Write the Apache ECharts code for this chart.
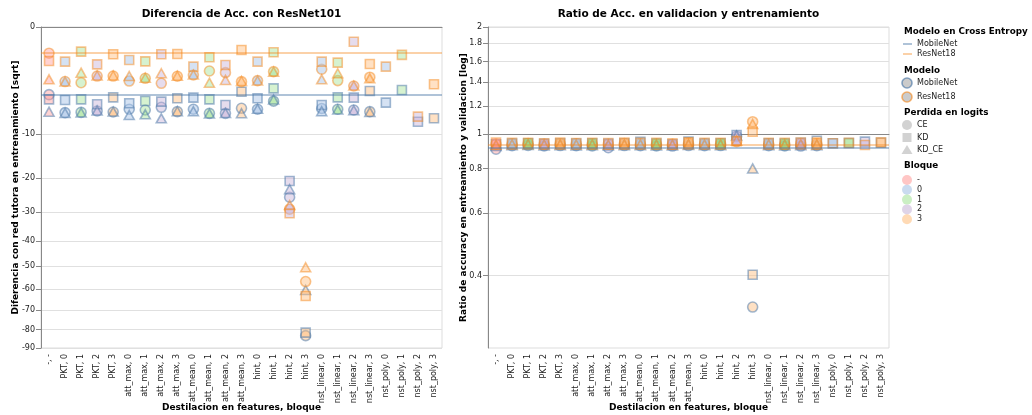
<!DOCTYPE html>
<html><head><meta charset="utf-8">
<script src="https://cdn.jsdelivr.net/npm/echarts@6/dist/echarts.min.js"></script>
<style>html,body{margin:0;padding:0;background:#fff}#c{width:1032px;height:415px}</style>
</head><body><div id="c"></div>
<script>
// ---------- DATA ----------
const categories = ['-, -','PKT, 0','PKT, 1','PKT, 2','PKT, 3','att_max, 0','att_max, 1','att_max, 2','att_max, 3',
  'att_mean, 0','att_mean, 1','att_mean, 2','att_mean, 3','hint, 0','hint, 1','hint, 2','hint, 3',
  'nst_linear, 0','nst_linear, 1','nst_linear, 2','nst_linear, 3','nst_poly, 0','nst_poly, 1','nst_poly, 2','nst_poly, 3'];
const categoryBlock = ['-','0','1','2','3','0','1','2','3','0','1','2','3','0','1','2','3','0','1','2','3','0','1','2','3'];
const models = ['MobileNet','ResNet18'];
const losses = ['CE','KD','KD_CE'];
const blockNames = ['-','0','1','2','3'];

// Left panel: difference with ResNet101 (train acc)
const diffResNet18CE   = [-0.60,-2.60,-2.71,-2.10,-2.10,-2.55,-2.30,-2.77,-2.12,-2.01,-1.69,-1.82,-2.61,-2.51,-1.74,-29.0,-56.6,-1.56,-2.51,-3.04,-2.20,null,null,null,null];
const diffResNet18KD   = [-1.01,-1.05,-0.53,-1.22,-0.65,-0.95,-1.03,-0.65,-0.64,-1.37,-0.80,-1.26,-0.46,-1.05,-0.56,-30.3,-63.2,-1.05,-1.11,-0.19,-1.20,-1.37,-0.68,-7.02,-2.87];
const diffResNet18KDCE = [-2.39,-2.60,-1.82,-2.05,-2.05,-2.10,-2.25,-1.87,-2.08,-1.98,-2.71,-2.45,-2.55,-2.51,-1.74,-27.7,-50.4,-2.39,-1.87,-3.00,-2.30,null,null,null,null];
const diffMobileNetCE   = [-4.00,-6.40,-6.36,-6.16,-6.31,-5.91,-6.02,-5.63,-6.26,-5.91,-6.51,-6.51,-5.77,-5.91,-4.80,-25.3,-83.2,-5.80,-5.91,-6.02,-6.26,null,null,null,null];
const diffMobileNetKD   = [-4.57,-4.65,-4.57,-5.22,-4.32,-5.08,-4.78,-4.87,-4.44,-4.36,-4.57,-5.31,-3.66,-4.44,-3.29,-20.7,-81.6,-5.31,-4.32,-4.36,-3.58,-5.00,-3.47,-7.83,-7.28];
const diffMobileNetKDCE = [-6.26,-6.45,-6.40,-6.10,-6.25,-6.76,-6.66,-7.28,-6.20,-6.20,-6.55,-6.45,-6.50,-5.85,-4.60,-23.0,-60.4,-6.20,-5.95,-6.05,-6.30,null,null,null,null];

// Right panel: ratio validation / train accuracy
const ratioResNet18CE   = [0.937,0.938,0.940,0.936,0.939,0.938,0.937,0.936,0.940,0.938,0.937,0.936,0.941,0.938,0.939,0.952,1.083,0.938,0.937,0.940,0.938,null,null,null,null];
const ratioResNet18KD   = [0.946,0.944,0.945,0.942,0.946,0.943,0.945,0.943,0.946,0.944,0.944,0.941,0.947,0.944,0.945,0.955,1.015,0.944,0.945,0.946,0.945,0.942,0.944,0.931,0.947];
const ratioResNet18KDCE = [0.933,0.935,0.936,0.934,0.935,0.934,0.935,0.933,0.935,0.935,0.934,0.933,0.936,0.934,0.935,0.958,1.067,0.935,0.934,0.936,0.935,null,null,null,null];
const ratioMobileNetCE   = [0.906,0.927,0.929,0.926,0.928,0.927,0.926,0.915,0.928,0.927,0.926,0.925,0.928,0.927,0.928,0.985,0.326,0.927,0.926,0.925,0.927,null,null,null,null];
const ratioMobileNetKD   = [0.935,0.940,0.942,0.939,0.941,0.940,0.941,0.938,0.942,0.950,0.940,0.935,0.952,0.940,0.941,0.994,0.402,0.941,0.940,0.944,0.957,0.942,0.943,0.952,0.945];
const ratioMobileNetKDCE = [0.925,0.930,0.931,0.929,0.930,0.929,0.930,0.928,0.930,0.930,0.929,0.928,0.931,0.930,0.930,0.990,0.800,0.930,0.929,0.930,0.930,null,null,null,null];

// Cross-entropy baselines (MobileNet, ResNet18)
const baselineDiff  = [-4.00, -0.60];
const baselineRatio = [0.906, 0.937];

// Tick labels
const diffTicks  = [0,-10,-20,-30,-40,-50,-60,-70,-80,-90];
const ratioTicks = [0.4,0.6,0.8,1,1.2,1.4,1.6,1.8,2];

// ---------- STYLE ----------
const FONT = 'DejaVu Sans';
const modelStroke = {MobileNet:'rgba(76,120,168,0.65)', ResNet18:'rgba(245,133,24,0.6)'};
const modelLine = {MobileNet:'rgba(76,120,168,0.6)', ResNet18:'rgba(245,133,24,0.5)'};
const blockFill = {'-':'rgba(255,152,150,0.55)','0':'rgba(174,199,232,0.65)','1':'rgba(152,223,138,0.5)','2':'rgba(197,176,213,0.55)','3':'rgba(255,187,120,0.55)'};
const lossSymbol = {CE:'circle', KD:'rect', KD_CE:'triangle'};
const lossSize = {CE:10, KD:9, KD_CE:[10,9]};

const sqrtT = v => -Math.sqrt(-v);
const logT = v => Math.log10(v);

const panels = [
  {data:{MobileNet:{CE:diffMobileNetCE,KD:diffMobileNetKD,KD_CE:diffMobileNetKDCE},
         ResNet18:{CE:diffResNet18CE,KD:diffResNet18KD,KD_CE:diffResNet18KDCE}}, t:sqrtT, base:baselineDiff},
  {data:{MobileNet:{CE:ratioMobileNetCE,KD:ratioMobileNetKD,KD_CE:ratioMobileNetKDCE},
         ResNet18:{CE:ratioResNet18CE,KD:ratioResNet18KD,KD_CE:ratioResNet18KDCE}}, t:logT, base:baselineRatio}
];

const series = [];
panels.forEach((p, pi) => {
  series.push({
    type:'scatter', xAxisIndex:pi, yAxisIndex:pi, data:[], silent:true,
    markLine:{silent:true, symbol:['none','none'], label:{show:false}, animation:false,
      data: models.map((m, mi) => ({yAxis: p.t(p.base[mi]), lineStyle:{color:modelLine[m], width:1.6, type:'solid'}}))}
  });
  models.forEach(m => {
    losses.forEach(l => {
      const vals = p.data[m][l];
      series.push({
        type:'scatter', xAxisIndex:pi, yAxisIndex:pi, symbol:lossSymbol[l], symbolSize:lossSize[l],
        name: m + ' ' + l,
        data: vals.map((v, i) => v == null ? null : {
          value:[i, p.t(v)],
          itemStyle:{color: blockFill[categoryBlock[i]], borderColor: modelStroke[m], borderWidth:1.6}
        })
      });
    });
  });
});

const xAxisCommon = {
  type:'category', data:categories, boundaryGap:true,
  axisLine:{lineStyle:{color:'#888', width:1}},
  axisTick:{alignWithLabel:true, length:5, lineStyle:{color:'#888'}},
  axisLabel:{rotate:90, interval:0, fontSize:8, color:'#222', fontFamily:FONT, margin:6},
  splitLine:{show:false},
  name:'Destilacion en features, bloque', nameLocation:'middle', nameGap:55, nameMoveOverlap:false,
  nameTextStyle:{fontWeight:'bold', fontSize:9, color:'#000', fontFamily:FONT}
};

const diffTickPos = diffTicks.map(sqrtT);
const ratioTickPos = ratioTicks.map(logT);

const yLeft = {
  type:'value', gridIndex:0, min:sqrtT(-90), max:0,
  axisLine:{show:true, lineStyle:{color:'#888'}},
  axisTick:{show:true, length:5, lineStyle:{color:'#888'}, customValues:diffTickPos},
  axisLabel:{customValues:diffTickPos, fontSize:8, color:'#222', fontFamily:FONT, margin:6,
    formatter: v => { const i = diffTickPos.findIndex(t => Math.abs(t - v) < 1e-6); return i >= 0 ? String(diffTicks[i]) : ''; }},
  splitLine:{show:true, lineStyle:{color:'#e0e0e0', width:1}},
  name:'Diferencia con red tutora en entrenamiento [sqrt]', nameLocation:'middle', nameGap:21, nameMoveOverlap:false,
  nameTextStyle:{fontWeight:'bold', fontSize:9, color:'#000', fontFamily:FONT}
};
const yRight = {
  type:'value', gridIndex:1, min:logT(0.25), max:logT(2),
  axisLine:{show:true, lineStyle:{color:'#888'}},
  axisTick:{show:true, length:5, lineStyle:{color:'#888'}, customValues:ratioTickPos},
  axisLabel:{customValues:ratioTickPos, fontSize:8, color:'#222', fontFamily:FONT, margin:6,
    formatter: v => { const i = ratioTickPos.findIndex(t => Math.abs(t - v) < 1e-6); return i >= 0 ? String(ratioTicks[i]) : ''; }},
  splitLine:{show:true, lineStyle:{color:'#e0e0e0', width:1}},
  name:'Ratio de accuracy en entreamiento y validacion [log]', nameLocation:'middle', nameGap:20, nameMoveOverlap:false,
  nameTextStyle:{fontWeight:'bold', fontSize:9, color:'#000', fontFamily:FONT}
};

// ---------- LEGEND (graphic) ----------
const LX = 904, SX = 907, TX = 917;
const g = [];
const title = (txt, y) => g.push({type:'text', x:LX, y:y, style:{text:txt, font:'bold 8.8px "DejaVu Sans"', fill:'#000', verticalAlign:'middle', align:'left'}});
const label = (txt, y) => g.push({type:'text', x:TX, y:y, style:{text:txt, font:'8px "DejaVu Sans"', fill:'#222', verticalAlign:'middle', align:'left'}});
title('Modelo en Cross Entropy', 32);
models.forEach((m, i) => {
  const y = 44 + i * 10;
  g.push({type:'line', shape:{x1:903, y1:y, x2:912, y2:y}, style:{stroke:modelLine[m], lineWidth:1.5}});
  label(m, y);
});
title('Modelo', 71);
models.forEach((m, i) => {
  const y = 83 + i * 14;
  g.push({type:'circle', shape:{cx:SX, cy:y, r:5}, style:{fill:'rgba(160,160,160,0.55)', stroke:modelStroke[m], lineWidth:1.6}});
  label(m, y);
});
title('Perdida en logits', 113);
losses.forEach((l, i) => {
  const y = 125 + i * 12.5;
  const fill = 'rgba(180,180,180,0.6)';
  if (l === 'CE') g.push({type:'circle', shape:{cx:SX, cy:y, r:5}, style:{fill}});
  else if (l === 'KD') g.push({type:'rect', shape:{x:SX-4.5, y:y-4.5, width:9, height:9}, style:{fill}});
  else g.push({type:'polygon', shape:{points:[[SX, y-5],[SX+5.5, y+4],[SX-5.5, y+4]]}, style:{fill}});
  label(l, y);
});
title('Bloque', 166);
blockNames.forEach((b, i) => {
  const y = 180 + i * 9.8;
  g.push({type:'circle', shape:{cx:SX, cy:y, r:5}, style:{fill:blockFill[b]}});
  label(b, y);
});
g.push({type:'text', x:241.5, y:14, style:{text:'Diferencia de Acc. con ResNet101', font:'bold 10.5px "DejaVu Sans"', fill:'#000', align:'center', verticalAlign:'middle'}});
g.push({type:'text', x:688.5, y:14, style:{text:'Ratio de Acc. en validacion y entrenamiento', font:'bold 10.5px "DejaVu Sans"', fill:'#000', align:'center', verticalAlign:'middle'}});

const chart = echarts.init(document.getElementById('c'), null, {renderer:'canvas'});
chart.setOption({
  animation:false,
  backgroundColor:'#fff',
  textStyle:{fontFamily:FONT},
  grid:[
    {left:41, top:27, width:401, height:321, show:true, borderColor:'#ddd', borderWidth:1, backgroundColor:'transparent', containLabel:false, outerBoundsMode:'none'},
    {left:488, top:27, width:401, height:321, show:true, borderColor:'#ddd', borderWidth:1, backgroundColor:'transparent', containLabel:false, outerBoundsMode:'none'}
  ],
  xAxis:[Object.assign({gridIndex:0}, xAxisCommon), Object.assign({gridIndex:1}, xAxisCommon)],
  yAxis:[yLeft, yRight],
  series:series,
  graphic:g
});
</script>
</body></html>
